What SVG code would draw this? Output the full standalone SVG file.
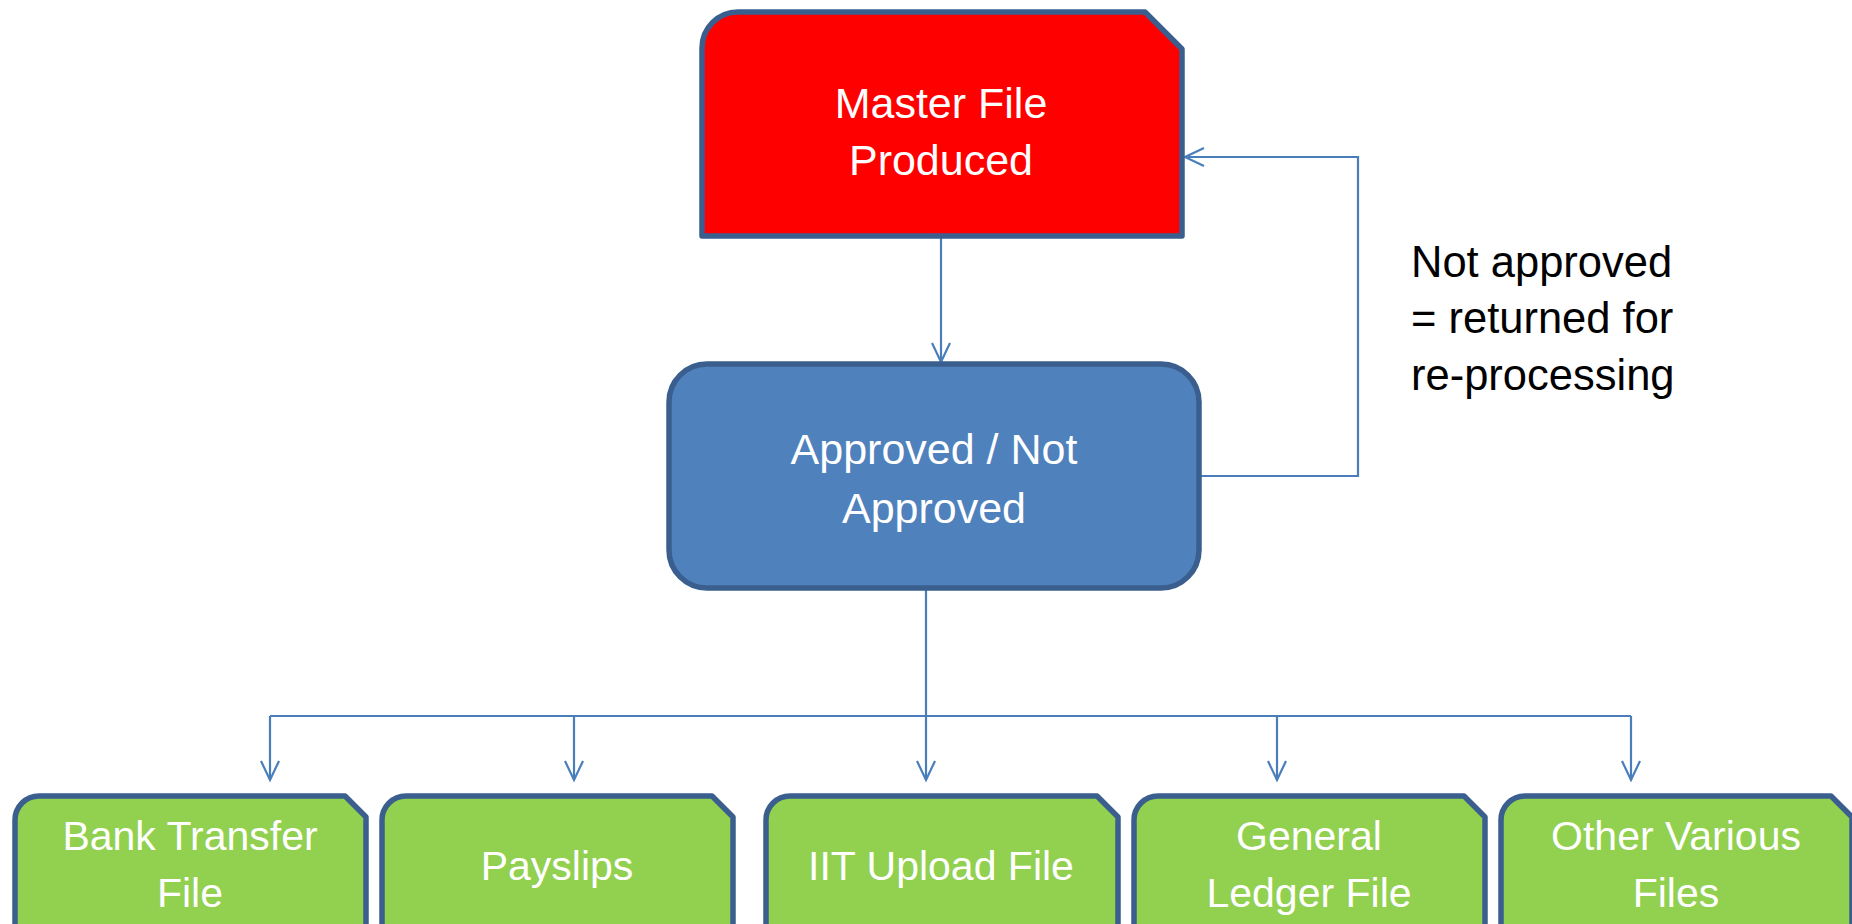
<svg xmlns="http://www.w3.org/2000/svg" width="1852" height="924" viewBox="0 0 1852 924">
<style>
.box{stroke:#3A5F8E;stroke-width:5.5;stroke-linejoin:round}
.red{fill:#FF0000}
.blue{fill:#4F81BD}
.green{fill:#92D050}
.wt{fill:#FFFFFF;font-family:"Liberation Sans",Arial,sans-serif;text-anchor:middle}
.big{font-size:43px}
.small{font-size:41px}
.lbl{fill:#000000;font-family:"Liberation Sans",Arial,sans-serif;font-size:43.5px}
.conn{fill:none;stroke:#4A7EBB;stroke-width:2.2}
</style>
<defs>
<marker id="arr" markerUnits="userSpaceOnUse" markerWidth="24" markerHeight="24" refX="20" refY="10" orient="auto" overflow="visible">
<path d="M1,1 L20,10 L1,19" fill="none" stroke="#4A7EBB" stroke-width="2.2"/>
</marker>
</defs>
<g id="connectors">
<path class="conn" d="M941,238 L941,362" marker-end="url(#arr)"/>
<path class="conn" d="M1201,476 L1358,476 L1358,157 L1185,157" marker-end="url(#arr)"/>
<path class="conn" d="M926,590 L926,780" marker-end="url(#arr)"/>
<path class="conn" d="M270,716 L1631,716"/>
<path class="conn" d="M270,716 L270,780" marker-end="url(#arr)"/>
<path class="conn" d="M574,716 L574,780" marker-end="url(#arr)"/>
<path class="conn" d="M1277,716 L1277,780" marker-end="url(#arr)"/>
<path class="conn" d="M1631,716 L1631,780" marker-end="url(#arr)"/>
</g>
<g id="master">
<path class="box red" d="M702,236 L702,48 A36,36 0 0 1 738,12 L1145,12 L1182,49 L1182,236 Z"/>
<text class="wt big" x="941" y="118">Master File</text>
<text class="wt big" x="941" y="175">Produced</text>
</g>
<g id="approval">
<rect class="box blue" x="669" y="364" width="530" height="224" rx="38" ry="38"/>
<text class="wt big" x="934" y="464">Approved / Not</text>
<text class="wt big" x="934" y="523">Approved</text>
</g>
<g id="note">
<text class="lbl" x="1411" y="277">Not approved</text>
<text class="lbl" x="1411" y="333">= returned for</text>
<text class="lbl" x="1411" y="390">re-processing</text>
</g>
<g id="bank">
<path class="box green" d="M15,945 L15,820 A24,24 0 0 1 39,796 L345,796 L366,817 L366,945 Z"/>
<text class="wt small" x="190" y="850">Bank Transfer</text>
<text class="wt small" x="190" y="907">File</text>
</g>
<g id="payslips">
<path class="box green" d="M382,945 L382,820 A24,24 0 0 1 406,796 L712,796 L733,817 L733,945 Z"/>
<text class="wt small" x="557" y="880">Payslips</text>
</g>
<g id="iit">
<path class="box green" d="M766,945 L766,820 A24,24 0 0 1 790,796 L1097,796 L1118,817 L1118,945 Z"/>
<text class="wt small" x="941" y="880">IIT Upload File</text>
</g>
<g id="ledger">
<path class="box green" d="M1134,945 L1134,820 A24,24 0 0 1 1158,796 L1464,796 L1485,817 L1485,945 Z"/>
<text class="wt small" x="1309" y="850">General</text>
<text class="wt small" x="1309" y="907">Ledger File</text>
</g>
<g id="other">
<path class="box green" d="M1501,945 L1501,820 A24,24 0 0 1 1525,796 L1831,796 L1852,817 L1852,945 Z"/>
<text class="wt small" x="1676" y="850">Other Various</text>
<text class="wt small" x="1676" y="907">Files</text>
</g>
</svg>
